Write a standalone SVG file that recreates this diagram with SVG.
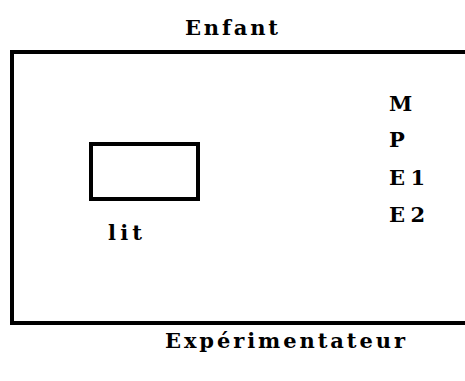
<svg xmlns="http://www.w3.org/2000/svg" width="465" height="381" viewBox="0 0 465 381">
<style>
.box{fill:none;stroke:#000;stroke-width:4}
.t{font-family:"DejaVu Serif","Liberation Serif",serif;font-weight:bold;font-size:21px;fill:#000}
</style>
<rect width="465" height="381" fill="#fff"/>
<g id="enfant-label"><text class="t" x="185" y="35" textLength="93" lengthAdjust="spacing">Enfant</text></g>
<g id="room"><rect class="box" x="12" y="52" width="470" height="271"/></g>
<g id="lit"><rect class="box" x="91" y="144" width="107" height="55"/>
<text class="t" x="108" y="240" textLength="34" lengthAdjust="spacing">lit</text></g>
<g id="M"><text class="t" x="389" y="111">M</text></g>
<g id="P"><text class="t" x="389" y="147">P</text></g>
<g id="E1"><text class="t" x="389" y="185" textLength="36" lengthAdjust="spacing">E1</text></g>
<g id="E2"><text class="t" x="389" y="222" textLength="36" lengthAdjust="spacing">E2</text></g>
<g id="experimentateur-label"><text class="t" x="165" y="348" textLength="240" lengthAdjust="spacing">Expérimentateur</text></g>
<g id="connectors"></g>
</svg>
